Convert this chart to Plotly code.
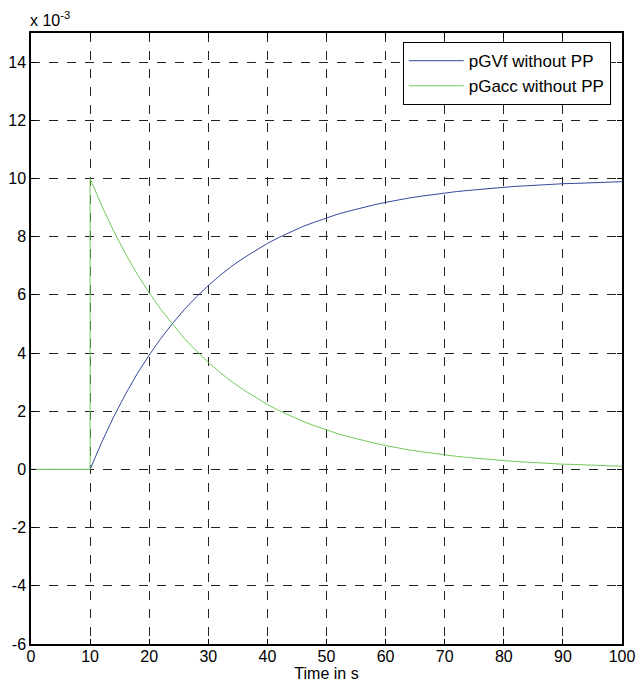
import plotly.graph_objects as go

# time samples (s)
t = [0, 10, 10, 12, 14, 16, 18, 20, 22, 24, 26, 28, 30, 32, 34, 36, 38, 40, 42, 44, 46, 48,
     50, 52, 54, 56, 58, 60, 62, 64, 66, 68, 70, 72, 74, 76, 78, 80, 82, 84, 86, 88,
     90, 92, 94, 96, 98, 100]

# pGacc without PP (x 1e-3)
pGacc = [0, 0, 10.00, 9.05, 8.19, 7.41, 6.70, 6.07, 5.49, 4.97, 4.49, 4.07, 3.68, 3.33,
         3.01, 2.73, 2.47, 2.23, 2.02, 1.83, 1.65, 1.50, 1.35, 1.22, 1.11, 1.00, 0.91,
         0.82, 0.74, 0.67, 0.61, 0.55, 0.50, 0.45, 0.41, 0.37, 0.33, 0.30, 0.27, 0.25,
         0.22, 0.20, 0.18, 0.17, 0.15, 0.14, 0.12, 0.11]

# pGVf without PP (x 1e-3)
pGVf = [0, 0, 0.00, 0.95, 1.81, 2.59, 3.30, 3.93, 4.51, 5.03, 5.51, 5.93, 6.32, 6.67,
        6.99, 7.27, 7.53, 7.77, 7.98, 8.17, 8.35, 8.50, 8.65, 8.78, 8.89, 9.00, 9.09,
        9.18, 9.26, 9.33, 9.39, 9.45, 9.50, 9.55, 9.59, 9.63, 9.67, 9.70, 9.73, 9.75,
        9.78, 9.80, 9.82, 9.83, 9.85, 9.86, 9.88, 9.89]

x_ticks = [0, 10, 20, 30, 40, 50, 60, 70, 80, 90, 100]
y_ticks = [-6, -4, -2, 0, 2, 4, 6, 8, 10, 12, 14]
y_tick_labels = ["-6", "-4", "-2", "0", "2", "4", "6", "8", "10", "12", "14"]

font = "Liberation Sans, Arial, sans-serif"

fig = go.Figure()
fig.add_trace(go.Scatter(x=t, y=pGVf, mode="lines", name="pGVf without PP",
                         line=dict(color="#34479f", width=1)))
fig.add_trace(go.Scatter(x=t, y=pGacc, mode="lines", name="pGacc without PP",
                         line=dict(color="#74c95c", width=1)))

axis_common = dict(showline=True, linecolor="black", linewidth=1.5, mirror="ticks",
                   ticks="inside", ticklen=5, tickcolor="black",
                   showgrid=True, gridcolor="#222222", griddash="dash", gridwidth=1,
                   zeroline=False, automargin=False,
                   tickfont=dict(family=font, size=16, color="black"))

fig.update_layout(
    width=637, height=686,
    margin=dict(l=31, r=15, t=33, b=42),
    paper_bgcolor="white", plot_bgcolor="white",
    font=dict(family=font, size=16, color="black"),
    xaxis=dict(range=[0, 100], tickvals=x_ticks, ticklabelstandoff=-3,
               title=dict(text="Time in s", font=dict(family=font, size=16), standoff=0),
               **axis_common),
    yaxis=dict(range=[-6, 15], tickvals=y_ticks, ticktext=y_tick_labels,
               ticklabelstandoff=0, **axis_common),
    legend=dict(x=0.629, y=0.985, xanchor="left", yanchor="top",
                bgcolor="white", bordercolor="black", borderwidth=1,
                itemwidth=55,
                font=dict(family=font, size=17), tracegroupgap=0),
    showlegend=True,
)

fig.add_annotation(text="x 10<sup>-3</sup>", xref="paper", yref="paper",
                   x=0, y=1, xanchor="left", yanchor="bottom", showarrow=False,
                   xshift=-3, yshift=2, font=dict(family=font, size=16))

fig.write_html("out.html")
